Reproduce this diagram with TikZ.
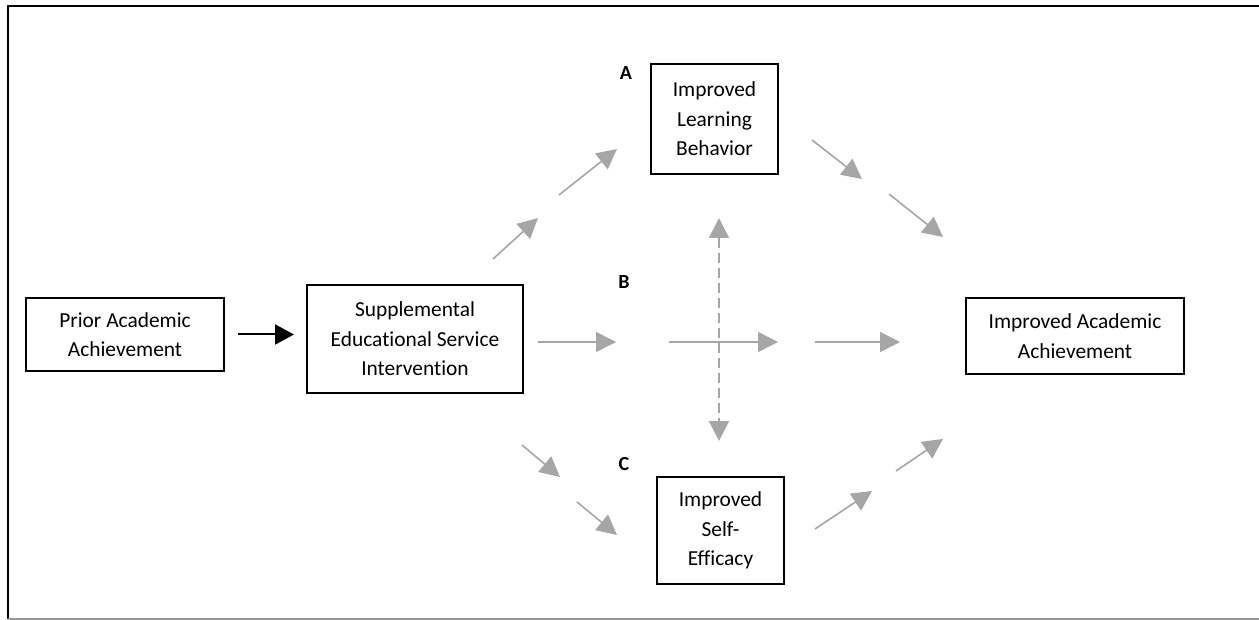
\documentclass[tikz,border=0pt]{standalone}
\usepackage{fontspec}
\setmainfont{Carlito}[Ligatures=NoCommon]
\usetikzlibrary{arrows.meta}
\definecolor{arrowgray}{RGB}{166,166,166}
\definecolor{framegray}{RGB}{150,150,150}
\tikzset{
  box/.style={draw, line width=1pt, align=center, inner sep=0pt,
    font=\fontsize{10.7}{14.8}\selectfont},
  letter/.style={font=\fontsize{10}{11}\selectfont\bfseries},
  grayarrow/.style={draw=arrowgray, line width=0.8pt,
    -{Triangle[length=10pt,width=10pt]}},
  blackarrow/.style={line width=1pt, -{Triangle[length=9.5pt,width=10pt]}},
}
\begin{document}
\begin{tikzpicture}[x=0.5pt,y=-0.5pt]
\useasboundingbox (0,0) rectangle (1259,620);
% frame
\draw[line width=1pt] (8,619) -- (8,6) -- (1259,6);
\draw[framegray, line width=0.6pt] (8,619) -- (1259,619);
% boxes
\node[box, minimum width=99pt, minimum height=36.5pt] (prior) at (125,334.5) {Prior Academic\\Achievement};
\node[box, minimum width=108pt, minimum height=54pt] (ses) at (415,339) {Supplemental\\Educational Service\\Intervention};
\node[box, minimum width=63.5pt, minimum height=55pt] (learn) at (714.5,119) {Improved\\Learning\\Behavior};
\node[box, minimum width=63.5pt, minimum height=53.5pt] (self) at (720.5,530.5) {Improved\\Self-\\Efficacy};
\node[box, minimum width=109pt, minimum height=38pt] (achieve) at (1075,336) {Improved Academic\\Achievement};
% letters
\node[letter] (la) at (626,73) {A};
\node[letter] (lb) at (624,282) {B};
\node[letter] (lc) at (624,464) {C};
% arrow ends
\coordinate (ul1s) at (493,259); \coordinate (ul1e) at (538,218);
\coordinate (ul2s) at (559,195); \coordinate (ul2e) at (617,149);
\coordinate (ur1s) at (812,140); \coordinate (ur1e) at (862,179);
\coordinate (ur2s) at (889,194); \coordinate (ur2e) at (943,237);
\coordinate (ll1s) at (522,445); \coordinate (ll1e) at (560,477);
\coordinate (ll2s) at (577,502); \coordinate (ll2e) at (617,535);
\coordinate (lr1s) at (815,529); \coordinate (lr1e) at (872,491);
\coordinate (lr2s) at (896,471); \coordinate (lr2e) at (943,439);
\coordinate (h1s) at (538,342); \coordinate (h1e) at (616,342);
\coordinate (h2s) at (669,342); \coordinate (h2e) at (778,342);
\coordinate (h3s) at (815,342); \coordinate (h3e) at (900,342);
\coordinate (dtop) at (719,218); \coordinate (dbot) at (719,441);
% arrows
\draw[blackarrow, shorten <=6.5pt, shorten >=6pt] (prior.east) -- (prior.east -| ses.west);
\draw[grayarrow, {Triangle[length=10pt,width=10pt]}-{Triangle[length=10pt,width=10pt]}, dash pattern=on 5pt off 2.5pt] (dtop) -- (dbot);
\draw[grayarrow] (ul1s) -- (ul1e);
\draw[grayarrow] (ul2s) -- (ul2e);
\draw[grayarrow] (ur1s) -- (ur1e);
\draw[grayarrow] (ur2s) -- (ur2e);
\draw[grayarrow] (ll1s) -- (ll1e);
\draw[grayarrow] (ll2s) -- (ll2e);
\draw[grayarrow] (lr1s) -- (lr1e);
\draw[grayarrow] (lr2s) -- (lr2e);
\draw[grayarrow] (h1s) -- (h1e);
\draw[grayarrow] (h2s) -- (h2e);
\draw[grayarrow] (h3s) -- (h3e);
\end{tikzpicture}
\end{document}
